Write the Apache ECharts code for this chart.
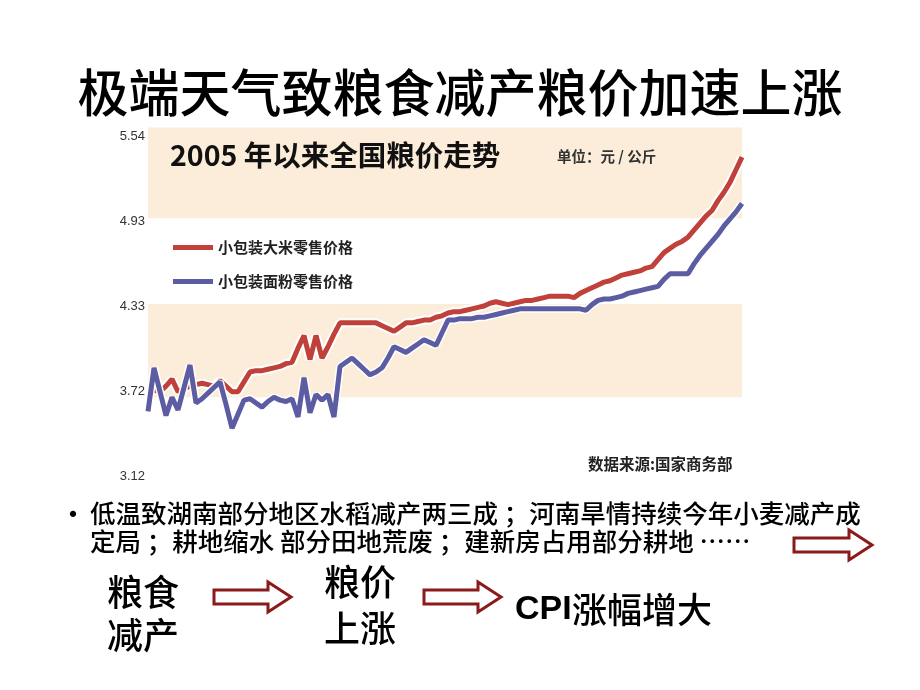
<!DOCTYPE html>
<html>
<head>
<meta charset="utf-8">
<script src="https://cdn.jsdelivr.net/npm/echarts@6.0.0/dist/echarts.min.js"></script>
<style>
  html, body { margin: 0; padding: 0; background: #fff; }
  #chart { width: 920px; height: 690px; }
</style>
</head>
<body>
<div id="chart"></div>
<script>
// 小包装大米零售价格（元/公斤），按时间顺序读图
const ricePrice = [
  3.73, 3.73, 3.72, 3.76, 3.81, 3.72, 3.74, 3.76, 3.77, 3.78,
  3.77, 3.76, 3.80, 3.76, 3.72, 3.72, 3.79, 3.86, 3.87, 3.87,
  3.88, 3.89, 3.90, 3.92, 3.93, 4.03, 4.12, 3.95, 4.12, 3.96,
  4.04, 4.13, 4.21, 4.21, 4.21, 4.21, 4.21, 4.21, 4.21, 4.19,
  4.17, 4.15, 4.18, 4.21, 4.21, 4.22, 4.23, 4.23, 4.25, 4.26,
  4.28, 4.29, 4.29, 4.30, 4.31, 4.32, 4.33, 4.35, 4.36, 4.35,
  4.34, 4.35, 4.36, 4.37, 4.37, 4.38, 4.39, 4.40, 4.40, 4.40,
  4.40, 4.39, 4.42, 4.44, 4.46, 4.48, 4.50, 4.51, 4.53, 4.55,
  4.56, 4.57, 4.58, 4.60, 4.61, 4.66, 4.71, 4.74, 4.77, 4.79,
  4.82, 4.87, 4.92, 4.97, 5.01, 5.08, 5.14, 5.21, 5.30, 5.39
];
// 小包装面粉零售价格
const flourPrice = [
  3.58, 3.89, 3.72, 3.55, 3.68, 3.59, 3.75, 3.91, 3.64, 3.67,
  3.71, 3.75, 3.79, 3.63, 3.46, 3.56, 3.66, 3.67, 3.64, 3.61,
  3.65, 3.68, 3.66, 3.65, 3.67, 3.54, 3.82, 3.57, 3.70, 3.66,
  3.70, 3.54, 3.90, 3.93, 3.96, 3.92, 3.88, 3.84, 3.86, 3.89,
  3.96, 4.04, 4.02, 4.00, 4.03, 4.06, 4.09, 4.07, 4.05, 4.14,
  4.23, 4.23, 4.24, 4.24, 4.24, 4.25, 4.25, 4.26, 4.27, 4.28,
  4.29, 4.30, 4.31, 4.31, 4.31, 4.31, 4.31, 4.31, 4.31, 4.31,
  4.31, 4.31, 4.31, 4.30, 4.34, 4.37, 4.38, 4.38, 4.39, 4.40,
  4.42, 4.43, 4.44, 4.45, 4.46, 4.47, 4.52, 4.56, 4.56, 4.56,
  4.56, 4.63, 4.69, 4.74, 4.79, 4.84, 4.90, 4.95, 5.00, 5.06
];
const yTickLabels = [3.12, 3.72, 4.33, 4.93, 5.54];
const periods = ricePrice.map((_, i) => String(i + 1));
const seriesNames = ["小包装大米零售价格", "小包装面粉零售价格"];

const CJK = '"Noto Sans CJK SC", "Noto Sans", sans-serif';
const darkRed = "#8b1a1a";

function arrow(x, y, len) {
  // 空心箭头：x,y 为左端中点
  const s = 7, h = 15, head = 23;
  return {
    type: "polygon",
    z: 100,
    shape: {
      points: [
        [x, y - s], [x + len - head, y - s], [x + len - head, y - h],
        [x + len, y], [x + len - head, y + h], [x + len - head, y + s], [x, y + s]
      ]
    },
    style: { fill: "#fff", stroke: darkRed, lineWidth: 3 }
  };
}

function txt(text, x, y, size, weight, align, color, family) {
  return {
    type: "text",
    z: 100,
    style: {
      text: text, x: x, y: y,
      font: (weight || "normal") + " " + size + "px " + (family || CJK),
      fill: color || "#000",
      textAlign: align || "left",
      textVerticalAlign: "middle"
    }
  };
}

const chart = echarts.init(document.getElementById("chart"));
chart.setOption({
  animation: false,
  backgroundColor: "#fff",
  grid: { left: 148, right: 178, top: 127.6, bottom: 214 },
  legend: {
    data: seriesNames,
    orient: "vertical",
    left: 168,
    top: 235,
    icon: "rect",
    itemWidth: 40,
    itemHeight: 5,
    itemGap: 19,
    textStyle: { fontSize: 15, fontWeight: "bold", color: "#222", fontFamily: CJK }
  },
  xAxis: {
    type: "category",
    data: periods,
    boundaryGap: false,
    axisLine: { show: false },
    axisTick: { show: false },
    axisLabel: { show: false },
    splitLine: { show: false }
  },
  yAxis: {
    type: "value",
    min: 3.12,
    max: 5.6,
    axisLine: { show: false },
    axisTick: { show: false },
    splitLine: { show: false },
    axisLabel: {
      customValues: yTickLabels,
      formatter: (v) => v.toFixed(2),
      margin: 3,
      fontSize: 13,
      color: "#333",
      fontFamily: "Liberation Sans, sans-serif"
    }
  },
  series: [
    {
      type: "line",
      data: ricePrice,
      symbol: "none",
      silent: true,
      lineStyle: { color: "#fff", width: 9 },
      markArea: {
        silent: true,
        itemStyle: { color: "#fcecda" },
        data: [
          [{ yAxis: 4.955 }, { yAxis: 5.6 }],
          [{ yAxis: 3.68 }, { yAxis: 4.345 }]
        ]
      }
    },
    {
      name: seriesNames[0],
      type: "line",
      data: ricePrice,
      symbol: "none",
      itemStyle: { color: "#c0413a" },
      lineStyle: { color: "#c0413a", width: 5 }
    },
    {
      type: "line",
      data: flourPrice,
      symbol: "none",
      silent: true,
      lineStyle: { color: "#fff", width: 8 }
    },
    {
      name: seriesNames[1],
      type: "line",
      data: flourPrice,
      symbol: "none",
      itemStyle: { color: "#5b5ca2" },
      lineStyle: { color: "#5b5ca2", width: 5 }
    }
  ],
  graphic: [
    txt("极端天气致粮食减产粮价加速上涨", 460, 93, 51, "500", "center"),
    txt("2005 年以来全国粮价走势", 170, 155, 28.5, "bold", "left", "#111"),
    txt("单位：元 / 公斤", 557, 156, 14.5, "bold", "left", "#333"),
    txt("数据来源:国家商务部", 588, 464, 15.5, "bold", "left", "#222"),
    txt("•", 58, 514, 30, "normal", "left"),
    txt("低温致湖南部分地区水稻减产两三成 ；河南旱情持续今年小麦减产成", 90, 513, 25.5, "500", "left"),
    txt("定局 ；耕地缩水 部分田地荒废 ；建新房占用部分耕地 ……", 90, 541, 25.5, "500", "left"),
    arrow(794, 545, 78),
    txt("粮食", 107, 592, 36, "500", "left"),
    txt("减产", 107, 635, 36, "500", "left"),
    arrow(214, 597, 77),
    txt("粮价", 324, 582, 36, "500", "left"),
    txt("上涨", 324, 628, 36, "500", "left"),
    arrow(424, 597, 77),
    txt("CPI", 515, 610, 34, "bold", "left", "#000", "Liberation Sans, Arial, sans-serif"),
    txt("涨幅增大", 572, 610, 35, "500", "left")
  ]
});
</script>
</body>
</html>
